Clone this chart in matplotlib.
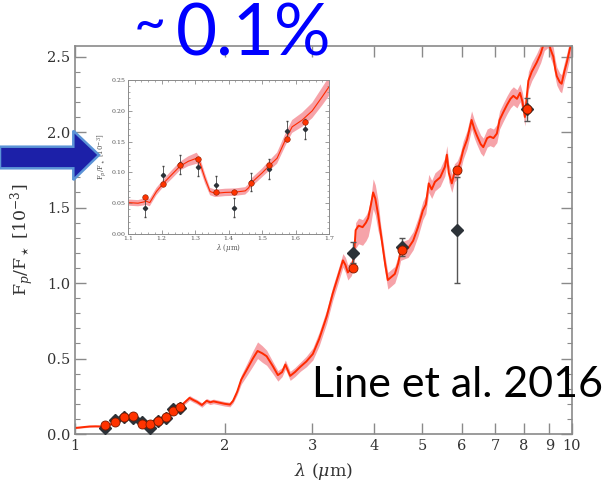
"""Emission spectrum plot (Line et al. 2016 style) with HST inset.

"""
import numpy as np
import matplotlib
matplotlib.use("Agg")
import matplotlib.pyplot as plt
from matplotlib.patches import Polygon
from matplotlib.ticker import FixedLocator, FuncFormatter, MultipleLocator, NullLocator

plt.rcParams['font.family'] = 'DejaVu Serif'
plt.rcParams['mathtext.fontset'] = 'dejavuserif'

# model spectrum (wavelength in micron, Fp/F* in 1e-3)
spec_wl = [1.00, 1.04, 1.07, 1.10, 1.13, 1.155, 1.165, 1.185, 1.205, 1.23,
           1.255, 1.28, 1.305, 1.315, 1.33, 1.345, 1.36, 1.39, 1.42, 1.45,
           1.46, 1.47, 1.50, 1.52, 1.545, 1.57, 1.59, 1.62, 1.65, 1.68, 1.70,
           1.73, 1.76, 1.80, 1.84, 1.87, 1.90, 1.95, 2.00, 2.05, 2.08,
           2.12, 2.16, 2.22, 2.28, 2.33, 2.38, 2.43, 2.50, 2.56, 2.61,
           2.65, 2.71, 2.77, 2.84, 2.92, 3.01,
           3.10, 3.21, 3.30, 3.38, 3.46, 3.50, 3.54, 3.60, 3.64, 3.67,
           3.72, 3.79, 3.85, 3.89, 3.94, 3.98, 4.02, 4.07, 4.12, 4.16,
           4.21, 4.26, 4.33, 4.40, 4.47, 4.52, 4.60, 4.68, 4.79, 4.90,
           5.01, 5.08, 5.15, 5.22, 5.30, 5.43, 5.55, 5.60, 5.65, 5.73,
           5.80, 5.88, 5.96, 6.04, 6.15, 6.28, 6.36, 6.43, 6.55, 6.63,
           6.75, 6.84, 6.95, 7.06, 7.15, 7.27, 7.40, 7.52, 7.62, 7.75,
           7.86, 7.95, 8.04, 8.10, 8.17, 8.30, 8.49, 8.65, 8.80, 8.95,
           9.05, 9.17, 9.25, 9.32, 9.45, 9.53, 9.65, 9.76, 9.90, 10.0]
spec_flux = [0.040, 0.046, 0.050, 0.051, 0.050, 0.053, 0.051, 0.069, 0.082, 0.096,
             0.110, 0.118, 0.123, 0.115, 0.090, 0.069, 0.066, 0.0675, 0.068, 0.070,
             0.075, 0.084, 0.099, 0.110, 0.123, 0.153, 0.174, 0.185, 0.200, 0.223, 0.239,
             0.225, 0.213, 0.192, 0.220, 0.210, 0.216, 0.208, 0.200, 0.195, 0.220,
             0.280, 0.360, 0.430, 0.500, 0.550, 0.535, 0.515, 0.450, 0.390, 0.410,
             0.460, 0.385, 0.410, 0.445, 0.480, 0.530,
             0.63, 0.78, 0.93, 1.04, 1.15, 1.12, 1.07, 1.10, 1.17, 1.35,
             1.38, 1.37, 1.40, 1.43, 1.52, 1.60, 1.56, 1.46, 1.34, 1.24,
             1.12, 1.02, 1.04, 1.06, 1.13, 1.21, 1.22, 1.23, 1.28, 1.37,
             1.48, 1.52, 1.66, 1.62, 1.67, 1.70, 1.77, 1.85, 1.73, 1.66,
             1.73, 1.75, 1.80, 1.88, 1.95, 2.08, 2.02, 1.98, 1.92, 1.90,
             1.96, 1.97, 1.96, 1.99, 2.08, 2.13, 2.18, 2.22, 2.24, 2.22,
             2.26, 2.20, 2.10, 2.22, 2.34, 2.40, 2.46, 2.52, 2.60, 2.62,
             2.55, 2.50, 2.42, 2.37, 2.33, 2.32, 2.40, 2.46, 2.55, 2.60]
# spread of the model band below / above the curve
spec_dn = ([0.005] * 5 + [0.006] * 4 + [0.007] * 2 + [0.008, 0.009, 0.009, 0.008]
           + [0.006] * 6 + [0.007, 0.007, 0.008, 0.009, 0.010, 0.010, 0.011, 0.012,
                            0.014, 0.015]
           + [0.015] * 10 + [0.02, 0.03, 0.04, 0.05, 0.05, 0.06, 0.06, 0.05, 0.04]
           + [0.03] * 5 + [0.035, 0.04]
           + [0.045] * 5 + [0.05] * 4 + [0.12] * 6 + [0.11] * 3 + [0.06] * 7
           + [0.06] * 55)
spec_up = ([0.005] * 5 + [0.006] * 4 + [0.007] * 2 + [0.008, 0.009, 0.009, 0.008]
           + [0.006] * 6 + [0.007, 0.007, 0.008, 0.009, 0.010, 0.011, 0.012, 0.013,
                            0.015, 0.016]
           + [0.015] * 10 + [0.02, 0.03, 0.04, 0.05, 0.06, 0.05, 0.04, 0.03, 0.03]
           + [0.03] * 5 + [0.035, 0.04]
           + [0.045] * 5 + [0.05] * 4 + [0.05] * 6 + [0.09] * 3 + [0.05] * 7
           + [0.06] * 55)

# HST WFC3 bins: observed eclipse depths and binned model
hst_wl = [1.150, 1.203, 1.256, 1.309, 1.362, 1.415, 1.468, 1.521, 1.574, 1.627]
hst_obs = [0.043, 0.096, 0.113, 0.1085, 0.080, 0.043, 0.084, 0.106, 0.167, 0.170]
hst_err = [0.016, 0.015, 0.015, 0.015, 0.014, 0.015, 0.015, 0.016, 0.016, 0.016]
hst_model = [0.0594, 0.081, 0.112, 0.122, 0.0675, 0.0675, 0.083, 0.112, 0.154, 0.182]

# Spitzer IRAC points
irac_wl = [3.63, 4.54, 5.86, 8.10]
irac_obs = [1.20, 1.24, 1.35, 2.15]
irac_err = [0.07, 0.06, 0.35, 0.075]
irac_model = [1.10, 1.22, 1.75, 2.15]

x_ticks = [1, 2, 3, 4, 5, 6, 7, 8, 9, 10]

assert len(spec_wl) == len(spec_flux) == len(spec_dn) == len(spec_up)

wl = np.array(spec_wl)
fl = np.array(spec_flux)
lo = fl - np.array(spec_dn)
hi = fl + np.array(spec_up)

LINE = '#ff2a00'
BAND = '#f6a3a9'
DOT = '#ff3300'
DIAM = '#2c3238'
GREY = '#8a8a8a'

fig = plt.figure(figsize=(6.13, 4.9), dpi=100)
ax = fig.add_axes([75 / 613, 1 - 434 / 490, 497 / 613, 388 / 490])

ax.fill_between(wl, lo, hi, color=BAND, lw=0, zorder=1)
ax.plot(wl, fl, color=LINE, lw=1.4, zorder=2)
ax.errorbar(hst_wl + irac_wl, hst_obs + irac_obs, yerr=hst_err + irac_err,
            fmt='D', ms=6.5, mfc=DIAM, mec=DIAM, ecolor='#555555',
            elinewidth=1.0, capsize=2.5, zorder=3)
ax.plot(hst_wl + irac_wl, hst_model + irac_model, 'o', ms=6.5, mfc=DOT,
        mec='#7a1a00', mew=0.6, zorder=4)

ax.set_xscale('log')
ax.set_xlim(1, 10)
ax.set_ylim(0, 2.57)
ax.xaxis.set_major_locator(FixedLocator(x_ticks))
ax.xaxis.set_major_formatter(FuncFormatter(lambda v, p: '%g' % v))
ax.xaxis.set_minor_locator(NullLocator())
ax.yaxis.set_major_locator(MultipleLocator(0.5))
ax.yaxis.set_minor_locator(MultipleLocator(0.1))
ax.tick_params(which='both', direction='in', top=True, right=True,
               color=GREY, labelcolor='#333333', labelsize=10.5)
ax.tick_params(which='major', length=8, width=1)
ax.tick_params(which='minor', length=3.5, width=0.8)
for s in ax.spines.values():
    s.set_color(GREY)
    s.set_linewidth(1.2)
ax.set_xlabel(r'$\lambda$ ($\mu$m)', fontsize=12.5, color='#333333', labelpad=6)
ax.set_ylabel(r'F$_p$/F$_\star$ [10$^{-3}$]', fontsize=12.5, color='#333333',
              labelpad=8)

# inset: zoom on the HST range
ins = fig.add_axes([128 / 613, 1 - 234 / 490, 201 / 613, 154 / 490])
ins.fill_between(wl, lo, hi, color=BAND, lw=0, zorder=1)
ins.plot(wl, fl, color=LINE, lw=0.8, zorder=2)
ins.errorbar(hst_wl, hst_obs, yerr=hst_err, fmt='D', ms=2.2, mfc=DIAM,
             mec=DIAM, ecolor='#444444', elinewidth=0.6, capsize=1.0, zorder=3)
ins.plot(hst_wl, hst_model, 'o', ms=4, mfc=DOT, mec='#8a2000', mew=0.4,
         zorder=4)
ins.set_xlim(1.1, 1.7)
ins.set_ylim(0, 0.25)
ins.xaxis.set_major_locator(MultipleLocator(0.1))
ins.xaxis.set_minor_locator(MultipleLocator(0.02))
ins.yaxis.set_major_locator(MultipleLocator(0.05))
ins.yaxis.set_minor_locator(MultipleLocator(0.01))
ins.xaxis.set_major_formatter(FuncFormatter(lambda v, p: '%.1f' % v))
ins.yaxis.set_major_formatter(FuncFormatter(lambda v, p: '%.2f' % v))
ins.tick_params(which='both', direction='in', top=True, right=True,
                color=GREY, labelcolor='#555555', labelsize=4.5, pad=1.5)
ins.tick_params(which='major', length=3, width=0.6)
ins.tick_params(which='minor', length=1.5, width=0.5)
for s in ins.spines.values():
    s.set_color(GREY)
    s.set_linewidth(0.7)
ins.set_xlabel(r'$\lambda$ ($\mu$m)', fontsize=5, color='#555555', labelpad=1)
ins.set_ylabel(r'F$_p$/F$_\star$ [10$^{-3}$]', fontsize=5, color='#555555',
               labelpad=2)

# slide annotations
arrow_px = [(0, 146.7), (73.3, 146.7), (73.3, 130.7), (99, 155),
            (73.3, 180), (73.3, 168.3), (0, 168.3)]
arrow = Polygon([(x / 613, 1 - y / 490) for x, y in arrow_px], closed=True,
                transform=fig.transFigure, facecolor='#1c20a8',
                edgecolor='#5b93d6', lw=1.8, zorder=10)
fig.patches.append(arrow)

fig.text(134 / 613, 1 - 42 / 490, '~', family='Lato', fontsize=40,
         color='#0000ff', va='baseline', ha='left', zorder=11)
fig.text(176 / 613, 1 - 55 / 490, '0.1%', family='Lato', fontsize=51,
         color='#0000ff', va='baseline', ha='left', zorder=11)
fig.text(312 / 613, 1 - 397 / 490, 'Line et al. 2016', family='Lato',
         fontsize=31, color='black', va='baseline', ha='left', zorder=11)

fig.savefig('out.png', dpi=100)
